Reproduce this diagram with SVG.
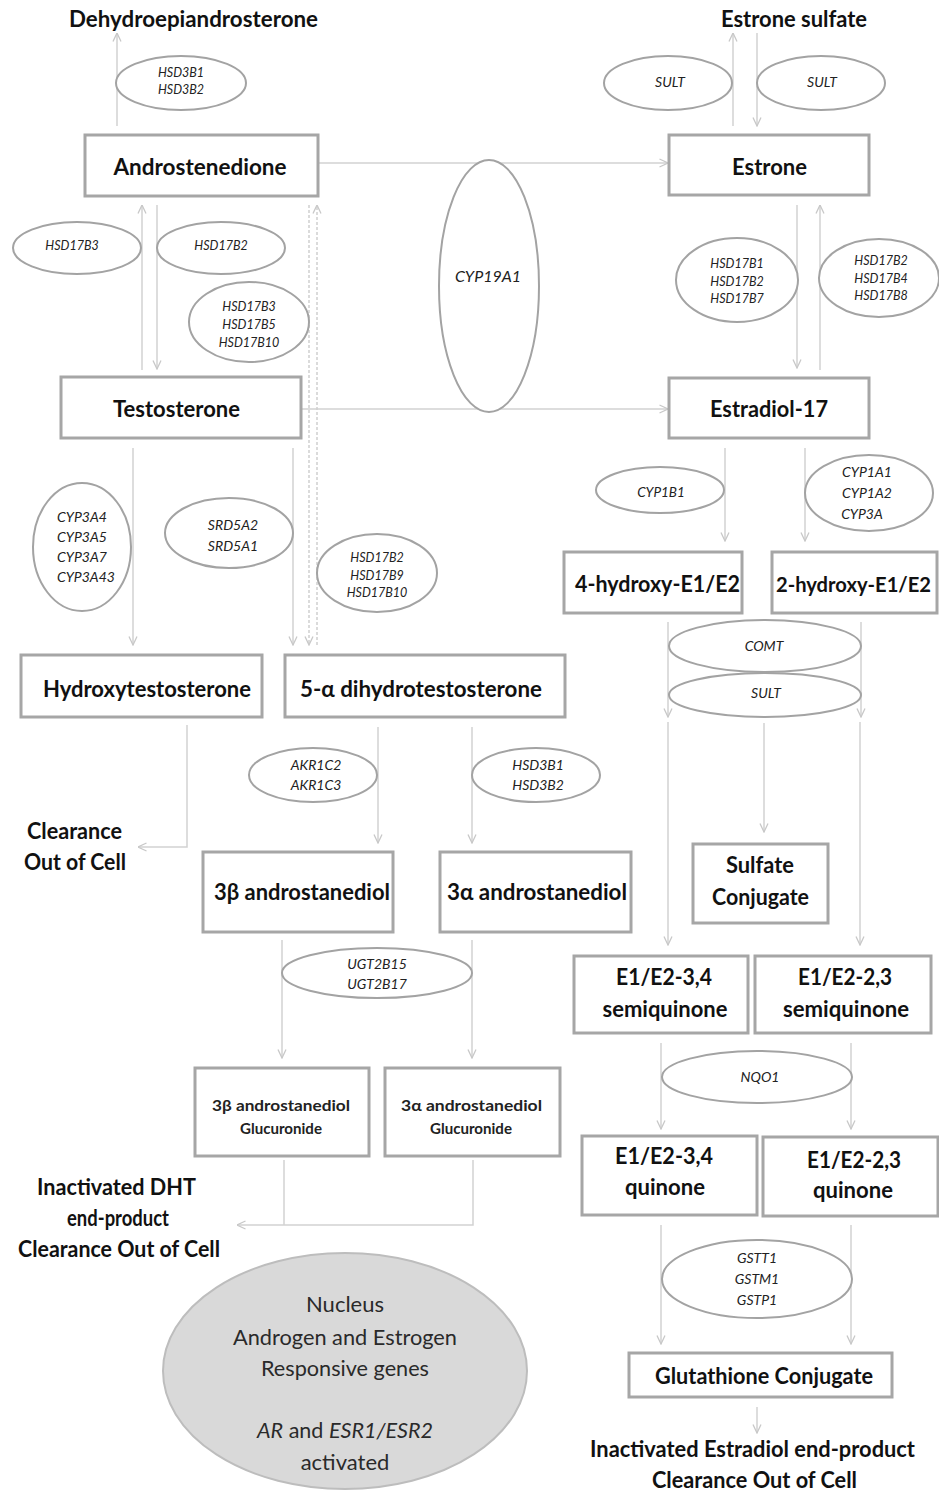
<svg xmlns="http://www.w3.org/2000/svg" width="939" height="1492" viewBox="0 0 939 1492">
<style>
.bx{fill:#fff;stroke:#a6a6a6;stroke-width:3}
.el{fill:#fff;stroke:#a3a3a3;stroke-width:2}
.ln{fill:none;stroke:#d2d2d2;stroke-width:1.5}
.dl{fill:none;stroke:#cfcfcf;stroke-width:1.5;stroke-dasharray:3 2}
.lb{font-family:Lato,"Liberation Sans",sans-serif;font-weight:bold;font-size:22px;fill:#111;text-anchor:middle}
.sm{font-family:Lato,"Liberation Sans",sans-serif;font-weight:bold;font-size:16px;fill:#222;text-anchor:middle}
.en{font-family:Lato,"Liberation Sans",sans-serif;font-style:italic;font-size:12.5px;fill:#222;text-anchor:middle}
.eb{font-family:Lato,"Liberation Sans",sans-serif;font-style:italic;font-size:14px;fill:#222;text-anchor:middle}
.nu{font-family:Lato,"Liberation Sans",sans-serif;font-size:22px;fill:#2a2a2a;text-anchor:middle}
</style>
<defs>
<marker id="ah" viewBox="0 0 10 10" refX="9.5" refY="5" markerWidth="10" markerHeight="10" markerUnits="userSpaceOnUse" orient="auto">
<path d="M1,1 L9.5,5 L1,9" fill="none" stroke="#c8c8c8" stroke-width="1.3"/>
</marker>
</defs>
<rect width="939" height="1492" fill="#fff"/>
<g id="connectors">
<line class="ln" x1="117" y1="126" x2="117" y2="33" marker-end="url(#ah)"/>
<line class="ln" x1="733" y1="126" x2="733" y2="33" marker-end="url(#ah)"/>
<line class="ln" x1="757" y1="33" x2="757" y2="126" marker-end="url(#ah)"/>
<line class="ln" x1="318" y1="163" x2="668" y2="163" marker-end="url(#ah)"/>
<line class="ln" x1="301" y1="409" x2="668" y2="409" marker-end="url(#ah)"/>
<line class="ln" x1="142" y1="370" x2="142" y2="205" marker-end="url(#ah)"/>
<line class="ln" x1="157" y1="205" x2="157" y2="369" marker-end="url(#ah)"/>
<line class="dl" x1="317" y1="645" x2="317" y2="205" marker-end="url(#ah)"/>
<line class="dl" x1="309" y1="205" x2="309" y2="645" marker-end="url(#ah)"/>
<line class="ln" x1="797" y1="205" x2="797" y2="368" marker-end="url(#ah)"/>
<line class="ln" x1="820" y1="370" x2="820" y2="205" marker-end="url(#ah)"/>
<line class="ln" x1="133" y1="448" x2="133" y2="645" marker-end="url(#ah)"/>
<line class="ln" x1="293" y1="448" x2="293" y2="645" marker-end="url(#ah)"/>
<line class="ln" x1="725" y1="448" x2="725" y2="541" marker-end="url(#ah)"/>
<line class="ln" x1="805" y1="448" x2="805" y2="541" marker-end="url(#ah)"/>
<line class="ln" x1="668" y1="622" x2="668" y2="717" marker-end="url(#ah)"/>
<line class="ln" x1="861" y1="622" x2="861" y2="717" marker-end="url(#ah)"/>
<line class="ln" x1="668" y1="722" x2="668" y2="945" marker-end="url(#ah)"/>
<line class="ln" x1="860" y1="722" x2="860" y2="945" marker-end="url(#ah)"/>
<line class="ln" x1="764" y1="723" x2="764" y2="832" marker-end="url(#ah)"/>
<polyline class="ln" points="187,725 187,847 138,847" marker-end="url(#ah)"/>
<line class="ln" x1="378" y1="727" x2="378" y2="843" marker-end="url(#ah)"/>
<line class="ln" x1="472" y1="727" x2="472" y2="843" marker-end="url(#ah)"/>
<line class="ln" x1="282" y1="940" x2="282" y2="1058" marker-end="url(#ah)"/>
<line class="ln" x1="472" y1="940" x2="472" y2="1058" marker-end="url(#ah)"/>
<line class="ln" x1="284" y1="1160" x2="284" y2="1225"/>
<polyline class="ln" points="473,1160 473,1225 237,1225" marker-end="url(#ah)"/>
<line class="ln" x1="661" y1="1043" x2="661" y2="1129" marker-end="url(#ah)"/>
<line class="ln" x1="851" y1="1043" x2="851" y2="1129" marker-end="url(#ah)"/>
<line class="ln" x1="661" y1="1225" x2="661" y2="1344" marker-end="url(#ah)"/>
<line class="ln" x1="851" y1="1225" x2="851" y2="1344" marker-end="url(#ah)"/>
<line class="ln" x1="757" y1="1407" x2="757" y2="1433" marker-end="url(#ah)"/>
</g>
<g id="dhea"><text class="lb" x="193.5" y="27" textLength="249" lengthAdjust="spacingAndGlyphs">Dehydroepiandrosterone</text></g>
<g id="estrone-sulfate"><text class="lb" x="794" y="27" textLength="146" lengthAdjust="spacingAndGlyphs">Estrone sulfate</text></g>
<g id="enz-hsd3b-top"><ellipse class="el" cx="181" cy="83" rx="65" ry="27"/><text class="en" x="181" y="76.5">HSD3B1</text><text class="en" x="181" y="93.5">HSD3B2</text></g>
<g id="enz-sult-l"><ellipse class="el" cx="668" cy="83" rx="64" ry="27"/><text class="eb" x="670" y="87">SULT</text></g>
<g id="enz-sult-r"><ellipse class="el" cx="821" cy="83" rx="64" ry="27"/><text class="eb" x="822" y="87">SULT</text></g>
<g id="androstenedione"><rect class="bx" x="85" y="135" width="233" height="61"/><text class="lb" x="200" y="175" textLength="173" lengthAdjust="spacingAndGlyphs">Androstenedione</text></g>
<g id="estrone"><rect class="bx" x="669" y="135" width="200" height="60"/><text class="lb" x="769.5" y="175" textLength="75" lengthAdjust="spacingAndGlyphs">Estrone</text></g>
<g id="enz-cyp19a1"><ellipse class="el" cx="489" cy="286" rx="50" ry="126"/><text class="eb" style="font-size:16px" x="488" y="282">CYP19A1</text></g>
<g id="enz-hsd17b3"><ellipse class="el" cx="77" cy="248" rx="64" ry="26"/><text class="en" x="72" y="249.5">HSD17B3</text></g>
<g id="enz-hsd17b2"><ellipse class="el" cx="221" cy="248" rx="64" ry="26"/><text class="en" x="221" y="249.5">HSD17B2</text></g>
<g id="enz-hsd17b3-5-10"><ellipse class="el" cx="249" cy="322" rx="60" ry="40"/><text class="en" x="249" y="310.5">HSD17B3</text><text class="en" x="249" y="328.5">HSD17B5</text><text class="en" x="249" y="346.5">HSD17B10</text></g>
<g id="enz-hsd17b1-2-7"><ellipse class="el" cx="737" cy="280" rx="61" ry="42"/><text class="en" x="737" y="267.5">HSD17B1</text><text class="en" x="737" y="285.5">HSD17B2</text><text class="en" x="737" y="302.5">HSD17B7</text></g>
<g id="enz-hsd17b2-4-8"><ellipse class="el" cx="879" cy="278" rx="60" ry="39"/><text class="en" x="881" y="264.5">HSD17B2</text><text class="en" x="881" y="282.5">HSD17B4</text><text class="en" x="881" y="299.5">HSD17B8</text></g>
<g id="testosterone"><rect class="bx" x="61" y="377" width="240" height="61"/><text class="lb" x="176.5" y="417" textLength="127" lengthAdjust="spacingAndGlyphs">Testosterone</text></g>
<g id="estradiol"><rect class="bx" x="669" y="378" width="200" height="60"/><text class="lb" x="769" y="417" textLength="118" lengthAdjust="spacingAndGlyphs">Estradiol-17</text></g>
<g id="enz-cyp3a"><ellipse class="el" cx="82" cy="547" rx="49" ry="64"/><text class="eb" x="82" y="522">CYP3A4</text><text class="eb" x="82" y="542">CYP3A5</text><text class="eb" x="82" y="562">CYP3A7</text><text class="eb" x="86" y="582">CYP3A43</text></g>
<g id="enz-srd5a"><ellipse class="el" cx="229" cy="533" rx="64" ry="35"/><text class="eb" x="233" y="530">SRD5A2</text><text class="eb" x="233" y="551">SRD5A1</text></g>
<g id="enz-hsd17b2-9-10"><ellipse class="el" cx="377" cy="573" rx="60" ry="39"/><text class="en" x="377" y="561.5">HSD17B2</text><text class="en" x="377" y="579.5">HSD17B9</text><text class="en" x="377" y="596.5">HSD17B10</text></g>
<g id="enz-cyp1b1"><ellipse class="el" cx="660" cy="490" rx="64" ry="23"/><text class="eb" style="font-size:13.5px" x="661" y="497">CYP1B1</text></g>
<g id="enz-cyp1a"><ellipse class="el" cx="869" cy="493" rx="64" ry="38"/><text class="eb" x="867" y="477">CYP1A1</text><text class="eb" x="867" y="498">CYP1A2</text><text class="eb" x="862" y="519">CYP3A</text></g>
<g id="hydroxytestosterone"><rect class="bx" x="21" y="655" width="241" height="62"/><text class="lb" x="147" y="697" textLength="208" lengthAdjust="spacingAndGlyphs">Hydroxytestosterone</text></g>
<g id="dht"><rect class="bx" x="285" y="655" width="280" height="62"/><text class="lb" x="421" y="697" textLength="242" lengthAdjust="spacingAndGlyphs">5-α dihydrotestosterone</text></g>
<g id="hydroxy4"><rect class="bx" x="564" y="552" width="178" height="61"/><text class="lb" x="657.5" y="592" textLength="165" lengthAdjust="spacingAndGlyphs">4-hydroxy-E1/E2</text></g>
<g id="hydroxy2"><rect class="bx" x="772" y="552" width="165" height="61"/><text class="lb" style="font-size:20px" x="853.5" y="592" textLength="155" lengthAdjust="spacingAndGlyphs">2-hydroxy-E1/E2</text></g>
<g id="enz-comt"><ellipse class="el" cx="765" cy="646" rx="96" ry="26"/><text class="eb" x="764" y="651">COMT</text></g>
<g id="enz-sult-mid"><ellipse class="el" cx="765" cy="695" rx="96" ry="22"/><text class="eb" x="766" y="698">SULT</text></g>
<g id="clearance1"><text class="lb" x="74.5" y="839" textLength="95" lengthAdjust="spacingAndGlyphs">Clearance</text><text class="lb" x="75" y="870" textLength="102" lengthAdjust="spacingAndGlyphs">Out of Cell</text></g>
<g id="enz-akr1c"><ellipse class="el" cx="313" cy="775" rx="64" ry="27"/><text class="eb" x="316" y="770">AKR1C2</text><text class="eb" x="316" y="790">AKR1C3</text></g>
<g id="enz-hsd3b-mid"><ellipse class="el" cx="536" cy="775" rx="64" ry="27"/><text class="eb" x="538" y="770">HSD3B1</text><text class="eb" x="538" y="790">HSD3B2</text></g>
<g id="andro3b"><rect class="bx" x="203" y="852" width="190" height="80"/><text class="lb" x="302" y="900" textLength="176" lengthAdjust="spacingAndGlyphs">3β androstanediol</text></g>
<g id="andro3a"><rect class="bx" x="440" y="852" width="191" height="80"/><text class="lb" x="537" y="900" textLength="180" lengthAdjust="spacingAndGlyphs">3α androstanediol</text></g>
<g id="sulfate-conj"><rect class="bx" x="693" y="844" width="135" height="79"/><text class="lb" x="760" y="873" textLength="68" lengthAdjust="spacingAndGlyphs">Sulfate</text><text class="lb" x="760.5" y="905" textLength="97" lengthAdjust="spacingAndGlyphs">Conjugate</text></g>
<g id="enz-ugt"><ellipse class="el" cx="377" cy="973" rx="95" ry="25"/><text class="eb" x="377" y="969">UGT2B15</text><text class="eb" x="377" y="989">UGT2B17</text></g>
<g id="semi34"><rect class="bx" x="574" y="956" width="174" height="77"/><text class="lb" x="664" y="985" textLength="96" lengthAdjust="spacingAndGlyphs">E1/E2-3,4</text><text class="lb" x="665" y="1017" textLength="125" lengthAdjust="spacingAndGlyphs">semiquinone</text></g>
<g id="semi23"><rect class="bx" x="755" y="956" width="176" height="77"/><text class="lb" x="845" y="985" textLength="94" lengthAdjust="spacingAndGlyphs">E1/E2-2,3</text><text class="lb" x="846" y="1017" textLength="126" lengthAdjust="spacingAndGlyphs">semiquinone</text></g>
<g id="enz-nqo1"><ellipse class="el" cx="757" cy="1077" rx="95" ry="26"/><text class="eb" x="760" y="1082">NQO1</text></g>
<g id="gluc3b"><rect class="bx" x="195" y="1068" width="174" height="88"/><text class="sm" x="281" y="1111" textLength="138" lengthAdjust="spacingAndGlyphs">3β androstanediol</text><text class="sm" x="281" y="1134" textLength="82" lengthAdjust="spacingAndGlyphs">Glucuronide</text></g>
<g id="gluc3a"><rect class="bx" x="385" y="1068" width="175" height="88"/><text class="sm" x="471.5" y="1111" textLength="141" lengthAdjust="spacingAndGlyphs">3α androstanediol</text><text class="sm" x="471" y="1134" textLength="82" lengthAdjust="spacingAndGlyphs">Glucuronide</text></g>
<g id="quin34"><rect class="bx" x="582" y="1136" width="175" height="79"/><text class="lb" x="664" y="1164" textLength="98" lengthAdjust="spacingAndGlyphs">E1/E2-3,4</text><text class="lb" x="665" y="1195" textLength="80" lengthAdjust="spacingAndGlyphs">quinone</text></g>
<g id="quin23"><rect class="bx" x="763" y="1137" width="175" height="79"/><text class="lb" x="854" y="1168" textLength="94" lengthAdjust="spacingAndGlyphs">E1/E2-2,3</text><text class="lb" x="853" y="1198" textLength="80" lengthAdjust="spacingAndGlyphs">quinone</text></g>
<g id="dht-clearance"><text class="lb" x="116.5" y="1195" textLength="159" lengthAdjust="spacingAndGlyphs">Inactivated DHT</text><text class="lb" x="118" y="1226" textLength="102" lengthAdjust="spacingAndGlyphs">end-product</text><text class="lb" x="119" y="1257" textLength="202" lengthAdjust="spacingAndGlyphs">Clearance Out of Cell</text></g>
<g id="enz-gst"><ellipse class="el" cx="757" cy="1279" rx="95" ry="39"/><text class="eb" x="757" y="1263">GSTT1</text><text class="eb" x="757" y="1284">GSTM1</text><text class="eb" x="757" y="1305">GSTP1</text></g>
<g id="nucleus"><ellipse cx="345" cy="1371" rx="182" ry="118" fill="#d9d9d9" stroke="#bdbdbd" stroke-width="2"/><text class="nu" x="345" y="1312">Nucleus</text><text class="nu" x="345" y="1345" textLength="224" lengthAdjust="spacingAndGlyphs">Androgen and Estrogen</text><text class="nu" x="345" y="1376" textLength="168" lengthAdjust="spacingAndGlyphs">Responsive genes</text><text class="nu" x="345" y="1438" textLength="176" lengthAdjust="spacingAndGlyphs"><tspan font-style="italic">AR</tspan> and <tspan font-style="italic">ESR1/ESR2</tspan></text><text class="nu" x="345" y="1470">activated</text></g>
<g id="glutathione"><rect class="bx" x="629" y="1353" width="263" height="44"/><text class="lb" x="764" y="1384" textLength="218" lengthAdjust="spacingAndGlyphs">Glutathione Conjugate</text></g>
<g id="estradiol-clearance"><text class="lb" x="752.5" y="1457" textLength="325" lengthAdjust="spacingAndGlyphs">Inactivated Estradiol end-product</text><text class="lb" x="754.5" y="1488" textLength="205" lengthAdjust="spacingAndGlyphs">Clearance Out of Cell</text></g>
</svg>
